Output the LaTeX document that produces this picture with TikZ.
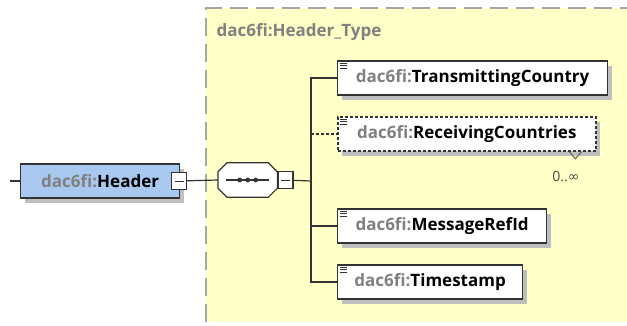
\documentclass[tikz,border=0pt]{standalone}
\usepackage{fontspec}
\setmainfont{Open Sans}
\newfontfamily\symbolfont{DejaVu Sans}
\usetikzlibrary{shadows}
\definecolor{typeYellow}{HTML}{FFFFC8}
\definecolor{typeBorder}{HTML}{A6A6A6}
\definecolor{headerBlue}{HTML}{A8C8F0}
\definecolor{lineGray}{HTML}{333333}
\definecolor{prefixGray}{HTML}{808080}
\newcommand{\pfx}{\textcolor{prefixGray}{dac6fi:}}

\begin{document}
\begin{tikzpicture}
[x=1pt,y=-1pt,
  lineDecorate/.style={-,line width=1.2pt,draw=lineGray},%
  boxDecorate/.style={shape=rectangle,draw=lineGray,line width=1.2pt,fill=white,
    minimum height=34pt,inner xsep=4pt,inner ysep=0pt,anchor=west,
    font=\fontsize{17}{20}\selectfont\bfseries,
    drop shadow={shadow xshift=4pt,shadow yshift=-5pt,fill=black!25,opacity=1}},
  minusDecorate/.style={shape=rectangle,draw=lineGray,line width=1.1pt,fill=white,
    minimum width=15pt,minimum height=17pt,inner sep=0pt,
    path picture={\draw[line width=1pt,lineGray]
      ([xshift=3pt]path picture bounding box.west) --
      ([xshift=-3pt]path picture bounding box.east);}},
  iconDecorate/.style={line width=0.9pt,draw=lineGray}]
\useasboundingbox (0,0) rectangle (627,325);
%% complex type area
\fill[typeYellow] (206,8) rectangle (627,322);
\draw[typeBorder,line width=1.5pt,dash pattern=on 18pt off 8pt] (206,322) -- (206,8) -- (627,8);
\node (typeTitle) at (213,32) [anchor=west,text=prefixGray,
  font=\fontsize{17}{20}\selectfont\bfseries] {dac6fi:Header\_Type};
%% root element
\coordinate (stub) at (10,181);
\node (header) at (20,181) [boxDecorate,fill=headerBlue,minimum width=159pt] {\pfx Header};
\node (hdrMinus) at (header.east) [minusDecorate,xshift=-1pt] {};
%% sequence compositor
\node (seq) at (218,180) [shape=rectangle,minimum width=59pt,minimum height=34pt,
  inner sep=0pt,anchor=west] {};
\filldraw[lineDecorate,fill=white]
  ([xshift=9pt]seq.north west) -- ([xshift=-9pt]seq.north east) --
  ([yshift=-9pt]seq.north east) -- ([yshift=9pt]seq.south east) --
  ([xshift=-9pt]seq.south east) -- ([xshift=9pt]seq.south west) --
  ([yshift=9pt]seq.south west) -- ([yshift=-9pt]seq.north west) -- cycle;
\draw[line width=1.3pt,lineGray] ([xshift=8pt]seq.west) -- ([xshift=-8pt]seq.east);
\foreach \dx in {-8,0,8}
{
  \fill[lineGray] ([xshift=\dx pt]seq.center) circle (2.4pt);
}
\node (seqMinus) at (seq.east) [minusDecorate,anchor=west] {};
%% child elements
\foreach \nodename/\y/\w/\tagname in {
  trans/78/270/TransmittingCountry,
  msgref/226/209/MessageRefId,
  stamp/282/185/Timestamp}
{
  \node (\nodename) at (337,\y) [boxDecorate,minimum width=\w pt] {\pfx\tagname};
}
\node (recv) at (337,134) [boxDecorate,line width=1.5pt,dash pattern=on 3pt off 2pt,
  minimum width=258pt] {\pfx ReceivingCountries};
\foreach \nodename in {trans,recv,msgref,stamp}
{
  \draw[iconDecorate,shift={(\nodename.north west)}]
    (3,3) -- (10,3) (3,5.5) -- (10,5.5) (3,8) -- (10,8);
}
%% multiplicity
\draw[line width=1.1pt,draw=black!60] ([xshift=-27pt]recv.south east) -- ++(6,7) -- ++(6,-7);
\node (recvMult) at (566,177) [text=black!70,font=\fontsize{14}{16}\selectfont]
  {0..{\symbolfont ∞}};
%% edges or lines
\coordinate (bus) at (311,181);
\draw[lineDecorate] (stub) -- (header);
\draw[lineDecorate] (hdrMinus) -- (seq.west);
\draw[lineDecorate] (seqMinus) -- (bus);
\foreach \nodename in {trans,msgref,stamp}
{
  \draw[lineDecorate] (bus) |- (\nodename.west);
}
\draw[lineDecorate,dash pattern=on 3pt off 2pt] (bus |- recv.west) -- (recv.west);
\end{tikzpicture}
\end{document}
